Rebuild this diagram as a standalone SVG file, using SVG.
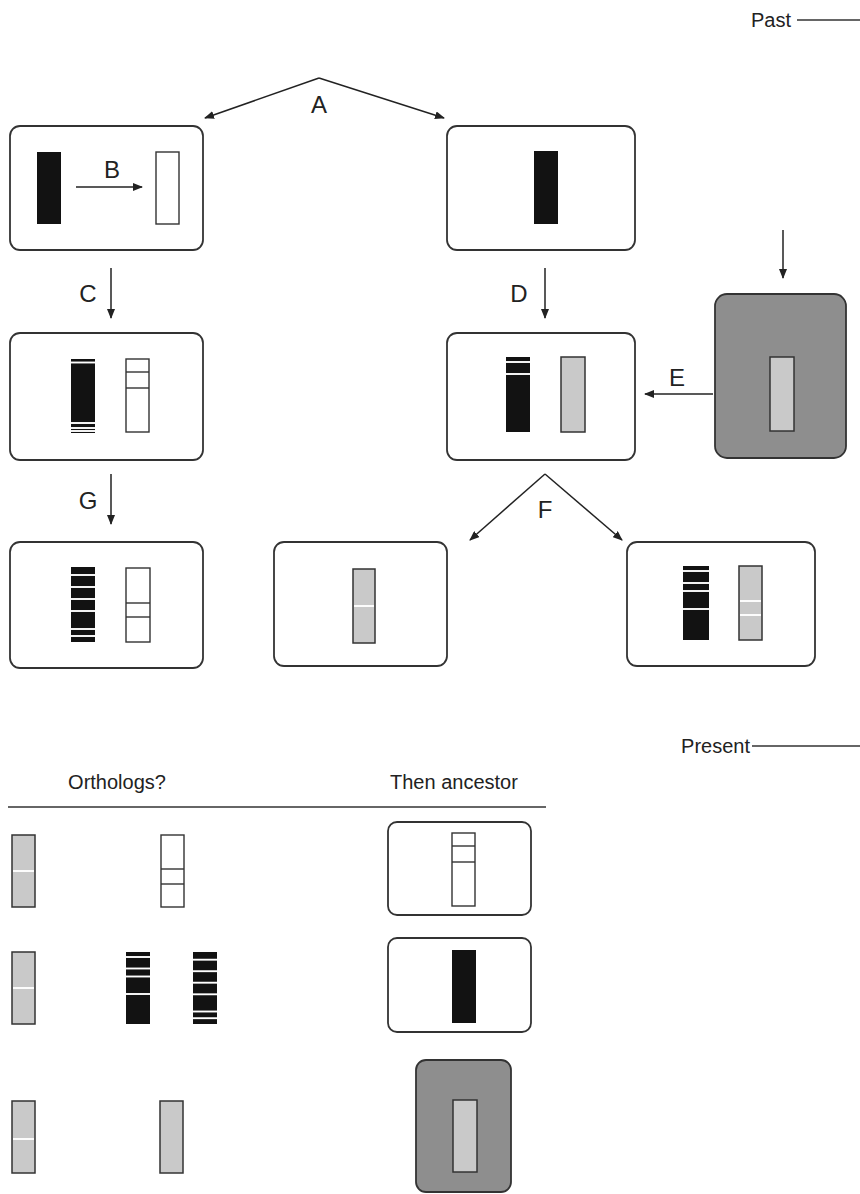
<svg xmlns="http://www.w3.org/2000/svg" width="860" height="1194" viewBox="0 0 860 1194">
<defs>
<marker id="ah" viewBox="0 0 10 8" refX="9" refY="4" markerWidth="10" markerHeight="8" markerUnits="userSpaceOnUse" orient="auto">
<path d="M0,0 L10,4 L0,8 Z" fill="#222"/>
</marker>
<style>
.box{fill:#fff;stroke:#333;stroke-width:1.8}
.gbox{fill:#8e8e8e;stroke:#333;stroke-width:1.8}
.blk{fill:#121212}
.wht{fill:#fff;stroke:#333;stroke-width:1.4}
.gry{fill:#c9c9c9;stroke:#333;stroke-width:1.5}
.ln{stroke:#333;stroke-width:1.4}
.wl{stroke:#fff;stroke-width:1.9}
.conn{fill:none;stroke:#222;stroke-width:1.5;marker-end:url(#ah)}
.rule{stroke:#333;stroke-width:1.4}
.lbl{font-family:"Liberation Sans",Arial,sans-serif;font-size:24px;fill:#222;text-anchor:middle}
.txt{font-family:"Liberation Sans",Arial,sans-serif;font-size:20px;fill:#222}
</style>
</defs>

<g id="timeline">
<text class="txt" x="791" y="27" text-anchor="end">Past</text>
<line class="rule" x1="797" y1="20" x2="860" y2="20"/>
<text class="txt" x="750" y="753" text-anchor="end">Present</text>
<line class="rule" x1="752" y1="746" x2="860" y2="746"/>
</g>

<g id="node-top-left">
<rect class="box" x="10" y="126" width="193" height="124" rx="10"/>
<rect class="blk" x="37" y="152" width="24" height="72"/>
<rect class="wht" x="156" y="152" width="23" height="72"/>
</g>

<g id="node-top-right">
<rect class="box" x="447" y="126" width="188" height="124" rx="10"/>
<rect class="blk" x="534" y="151" width="24" height="73"/>
</g>

<g id="node-gray-source">
<rect class="gbox" x="715" y="294" width="131" height="164" rx="12"/>
<rect class="gry" x="770" y="357" width="24" height="74"/>
</g>

<g id="node-C">
<rect class="box" x="10" y="333" width="193" height="127" rx="10"/>
<rect class="blk" x="71" y="359" width="24" height="74"/>
<line class="wl" x1="71" y1="362.5" x2="95" y2="362.5"/>
<line class="wl" x1="71" y1="423" x2="95" y2="423"/>
<line class="wl" x1="71" y1="428" x2="95" y2="428"/>
<line class="wl" x1="71" y1="431" x2="95" y2="431"/>
<rect class="wht" x="126" y="359" width="23" height="73"/>
<line class="ln" x1="126" y1="372" x2="149" y2="372"/>
<line class="ln" x1="126" y1="388" x2="149" y2="388"/>
</g>

<g id="node-D">
<rect class="box" x="447" y="333" width="188" height="127" rx="10"/>
<rect class="blk" x="506" y="357" width="24" height="75"/>
<line class="wl" x1="506" y1="362" x2="530" y2="362"/>
<line class="wl" x1="506" y1="374" x2="530" y2="374"/>
<rect class="gry" x="561" y="357" width="24" height="75"/>
</g>

<g id="node-G">
<rect class="box" x="10" y="542" width="193" height="126" rx="10"/>
<rect class="blk" x="71" y="567" width="24" height="75"/>
<line class="wl" x1="71" y1="575" x2="95" y2="575"/>
<line class="wl" x1="71" y1="587" x2="95" y2="587"/>
<line class="wl" x1="71" y1="599" x2="95" y2="599"/>
<line class="wl" x1="71" y1="611" x2="95" y2="611"/>
<line class="wl" x1="71" y1="629" x2="95" y2="629"/>
<line class="wl" x1="71" y1="636" x2="95" y2="636"/>
<rect class="wht" x="126" y="568" width="24" height="74"/>
<line class="ln" x1="126" y1="603" x2="150" y2="603"/>
<line class="ln" x1="126" y1="617" x2="150" y2="617"/>
</g>

<g id="node-F-left">
<rect class="box" x="274" y="542" width="173" height="124" rx="10"/>
<rect class="gry" x="353" y="569" width="22" height="74"/>
<line class="wl" x1="354" y1="606" x2="374" y2="606"/>
</g>

<g id="node-F-right">
<rect class="box" x="627" y="542" width="188" height="124" rx="10"/>
<rect class="blk" x="683" y="566" width="26" height="74"/>
<line class="wl" x1="683" y1="571" x2="709" y2="571"/>
<line class="wl" x1="683" y1="583" x2="709" y2="583"/>
<line class="wl" x1="683" y1="591" x2="709" y2="591"/>
<line class="wl" x1="683" y1="609" x2="709" y2="609"/>
<rect class="gry" x="739" y="566" width="23" height="74"/>
<line class="wl" x1="740" y1="601" x2="761" y2="601"/>
<line class="wl" x1="740" y1="615" x2="761" y2="615"/>
</g>

<g id="table-header">
<text class="txt" x="117" y="789" text-anchor="middle">Orthologs?</text>
<text class="txt" x="390" y="789">Then ancestor</text>
<line class="rule" x1="8" y1="807" x2="546" y2="807"/>
</g>

<g id="row-1">
<rect class="gry" x="12" y="835" width="23" height="72"/>
<line class="wl" x1="13" y1="871" x2="34" y2="871"/>
<rect class="wht" x="161" y="835" width="23" height="72"/>
<line class="ln" x1="161" y1="869" x2="184" y2="869"/>
<line class="ln" x1="161" y1="884" x2="184" y2="884"/>
<rect class="box" x="388" y="822" width="143" height="93" rx="9"/>
<rect class="wht" x="452" y="833" width="23" height="73"/>
<line class="ln" x1="452" y1="846" x2="475" y2="846"/>
<line class="ln" x1="452" y1="862" x2="475" y2="862"/>
</g>

<g id="row-2">
<rect class="gry" x="12" y="952" width="23" height="72"/>
<line class="wl" x1="13" y1="988" x2="34" y2="988"/>
<rect class="blk" x="126" y="952" width="24" height="72"/>
<line class="wl" x1="126" y1="957" x2="150" y2="957"/>
<line class="wl" x1="126" y1="968.5" x2="150" y2="968.5"/>
<line class="wl" x1="126" y1="976.5" x2="150" y2="976.5"/>
<line class="wl" x1="126" y1="994" x2="150" y2="994"/>
<rect class="blk" x="193" y="952" width="24" height="72"/>
<line class="wl" x1="193" y1="959.7" x2="217" y2="959.7"/>
<line class="wl" x1="193" y1="971.2" x2="217" y2="971.2"/>
<line class="wl" x1="193" y1="982.7" x2="217" y2="982.7"/>
<line class="wl" x1="193" y1="994.3" x2="217" y2="994.3"/>
<line class="wl" x1="193" y1="1011.5" x2="217" y2="1011.5"/>
<line class="wl" x1="193" y1="1018.2" x2="217" y2="1018.2"/>
<rect class="box" x="388" y="938" width="143" height="94" rx="9"/>
<rect class="blk" x="452" y="950" width="24" height="73"/>
</g>

<g id="row-3">
<rect class="gry" x="12" y="1101" width="23" height="72"/>
<line class="wl" x1="13" y1="1139" x2="34" y2="1139"/>
<rect class="gry" x="160" y="1101" width="23" height="72"/>
<rect class="gbox" x="416" y="1060" width="95" height="132" rx="10"/>
<rect class="gry" x="453" y="1100" width="24" height="72"/>
</g>

<g id="connectors">
<path class="conn" d="M319,78 L205,118"/>
<path class="conn" d="M319,78 L444,118"/>
<path class="conn" d="M76,187 L142,187"/>
<path class="conn" d="M111,268 L111,318"/>
<path class="conn" d="M545,268 L545,318"/>
<path class="conn" d="M783,230 L783,278"/>
<path class="conn" d="M713,394 L645,394"/>
<path class="conn" d="M111,474 L111,524"/>
<path class="conn" d="M545,474 L470,540"/>
<path class="conn" d="M545,474 L622,540"/>
<text class="lbl" x="319" y="113">A</text>
<text class="lbl" x="112" y="178">B</text>
<text class="lbl" x="88" y="302">C</text>
<text class="lbl" x="519" y="302">D</text>
<text class="lbl" x="677" y="386">E</text>
<text class="lbl" x="545" y="518">F</text>
<text class="lbl" x="88" y="509">G</text>
</g>
</svg>
